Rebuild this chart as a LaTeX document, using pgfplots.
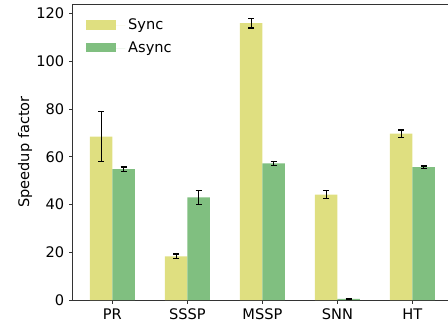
\documentclass[border=0pt]{standalone}
\usepackage{pgfplots}
\pgfplotsset{compat=1.18}
\usepackage{fontspec}
\setmainfont{DejaVu Sans}
\definecolor{syncc}{rgb}{0.875,0.875,0.5}
\definecolor{asyncc}{rgb}{0.5,0.75,0.5}
\definecolor{spine}{rgb}{0.2,0.2,0.2}
\begin{document}
\begin{tikzpicture}
\begin{axis}[
  scale only axis, width=273.2pt, height=213.1pt,
  xmin=-0.53, xmax=4.53, ymin=0, ymax=124,
  xtick={0,1,2,3,4}, xticklabels={PR,SSSP,MSSP,SNN,HT},
  ytick={0,20,40,60,80,100,120},
  tick align=outside, xtick pos=bottom, ytick pos=left,
  major tick length=2.6pt,
  every tick/.style={spine, line width=0.6pt},
  axis line style={spine, line width=0.7pt},
  /pgf/number format/assume math mode=true,
  tick label style={font=\fontsize{10.5}{12.5}\selectfont},
  label style={font=\fontsize{10.5}{12.5}\selectfont},
  ylabel={Speedup factor},
  ylabel style={at={([xshift=-34.3pt]axis description cs:0,0.5)}, anchor=center},
  ybar, bar width=0.3,
  legend cell align=left,
  legend image code/.code={\fill[#1] (0pt,-3.2pt) rectangle (21.6pt,3.8pt); \path (0pt,0pt) -- (28.6pt,0pt);},
  legend style={draw=none, fill=none, at={(0,1)}, anchor=north west, xshift=6.2pt, yshift=-6.6pt,
    font=\fontsize{10.5}{12.5}\selectfont, row sep=3pt},
]
\addplot[fill=syncc, draw=none, bar shift=-0.15,
  error bars/.cd, y dir=both, y explicit,
  error bar style={black, line width=0.9pt},
  error mark options={black, rotate=90, mark size=2.2pt, line width=0.9pt}]
  table[x=x, y=y, y error=e] {
x y e
0 68.5 10.5
1 18.3 1.0
2 116.0 2.0
3 44.2 1.7
4 69.7 1.5
};
\addplot[fill=asyncc, draw=none, bar shift=0.15,
  error bars/.cd, y dir=both, y explicit,
  error bar style={black, line width=0.9pt},
  error mark options={black, rotate=90, mark size=2.2pt, line width=0.9pt}]
  table[x=x, y=y, y error=e] {
x y e
0 54.8 0.9
1 43.0 3.0
2 57.2 0.8
3 0.5 0.3
4 55.7 0.5
};
\legend{Sync, Async}
\end{axis}
\pgfresetboundingbox
\path[use as bounding box] ([xshift=-52.3pt,yshift=2.9pt]current axis.north west) rectangle ([xshift=270.2pt,yshift=-18.7pt]current axis.south west);
\end{tikzpicture}
\end{document}
